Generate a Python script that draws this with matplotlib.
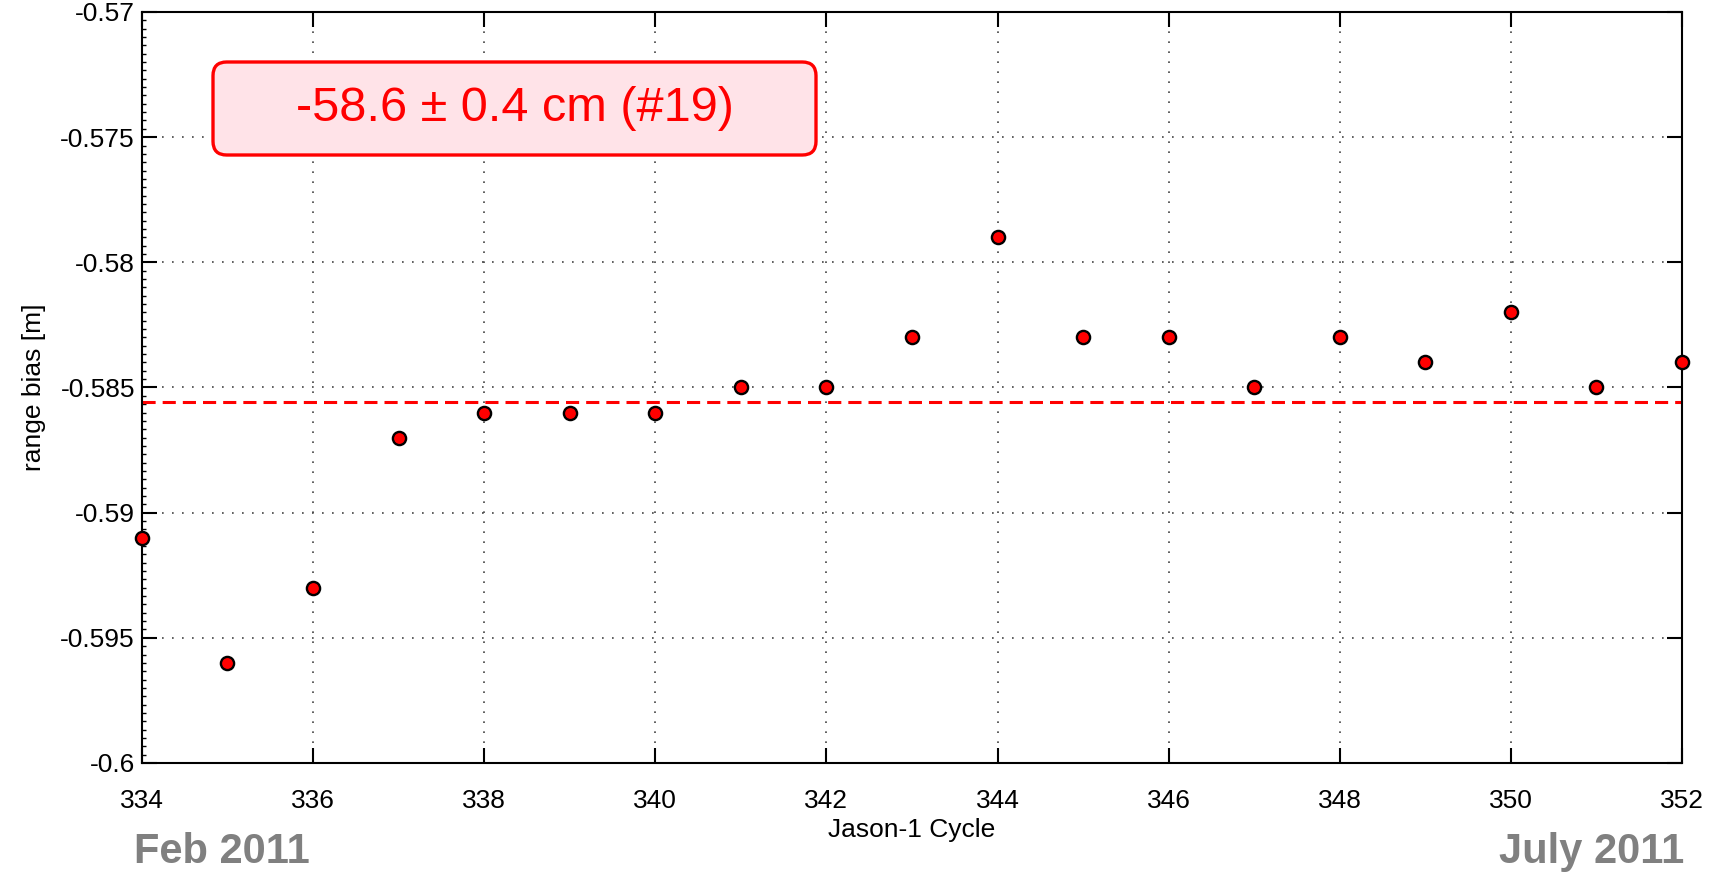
import matplotlib
matplotlib.use("Agg")
import matplotlib.pyplot as plt
from matplotlib.patches import FancyBboxPatch
from matplotlib.ticker import AutoMinorLocator
import numpy as np

plt.rcParams['font.family'] = ['Liberation Sans', 'DejaVu Sans']

# Jason-1 cycles and range bias values
cycles = [334, 335, 336, 337, 338, 339, 340, 341, 342, 343,
          344, 345, 346, 347, 348, 349, 350, 351, 352]
bias = [-0.591, -0.596, -0.593, -0.587, -0.586, -0.586, -0.586, -0.585, -0.585, -0.583,
        -0.579, -0.583, -0.583, -0.585, -0.583, -0.584, -0.582, -0.585, -0.584]
mean_bias = np.mean(bias)
box_text = "-58.6 \u00b1 0.4 cm (#19)"
xticks = [334, 336, 338, 340, 342, 344, 346, 348, 350, 352]
yticks = [-0.6, -0.595, -0.59, -0.585, -0.58, -0.575, -0.57]
ytick_labels = ["-0.6", "-0.595", "-0.59", "-0.585", "-0.58", "-0.575", "-0.57"]

fig = plt.figure(figsize=(17.1, 8.75), dpi=100)
ax = fig.add_axes([0.083, 0.128, 0.9006, 0.8583])

ax.axhline(mean_bias, color='red', lw=2.2, linestyle=(0, (4.3, 2.3)), zorder=2)
ax.plot(cycles, bias, linestyle='none', marker='o', markersize=9.5,
        markerfacecolor='red', markeredgecolor='black', markeredgewidth=1.7,
        clip_on=False, zorder=5)

ax.set_xlim(334, 352)
ax.set_ylim(-0.6, -0.57)
ax.set_xticks(xticks)
ax.set_yticks(yticks)
ax.set_yticklabels(ytick_labels)
ax.yaxis.set_minor_locator(AutoMinorLocator(15))

ax.grid(True, which='major', color='#444444', linestyle=(0, (1, 5)), lw=1.2)
ax.tick_params(which='major', direction='in', length=11, width=1.5,
               top=True, right=True, labelsize=19)
ax.tick_params(axis='x', which='major', pad=19)
ax.tick_params(axis='y', which='major', pad=5)
ax.tick_params(which='minor', direction='in', length=3, width=1,
               left=True, right=False, top=False, bottom=False)
for s in ax.spines.values():
    s.set_linewidth(1.5)

ax.set_xlabel("Jason-1 Cycle", fontsize=19, labelpad=3)
ax.set_ylabel("range bias [m]", fontsize=19, labelpad=10)

# annotation box in figure pixels
bx0, by0, bw, bh = 213 / 1710, 1 - 155 / 875, 603 / 1710, 93 / 875
box = FancyBboxPatch((bx0, by0), bw, bh, transform=fig.transFigure,
                     boxstyle="round,pad=0,rounding_size=0.008",
                     mutation_aspect=1710 / 875,
                     facecolor='#ffe3e8', edgecolor='red', lw=2.4, zorder=10)
fig.patches.append(box)
fig.text(bx0 + bw / 2, by0 + bh / 2, box_text, color='red', fontsize=35,
         ha='center', va='center', zorder=11)

fig.text(134 / 1710, 1 - 852 / 875, "Feb 2011", color='#808080', fontsize=30,
         fontweight='bold', ha='left', va='center')
fig.text(1684 / 1710, 1 - 852 / 875, "July 2011", color='#808080', fontsize=30,
         fontweight='bold', ha='right', va='center')

fig.savefig("out.png", dpi=100)
